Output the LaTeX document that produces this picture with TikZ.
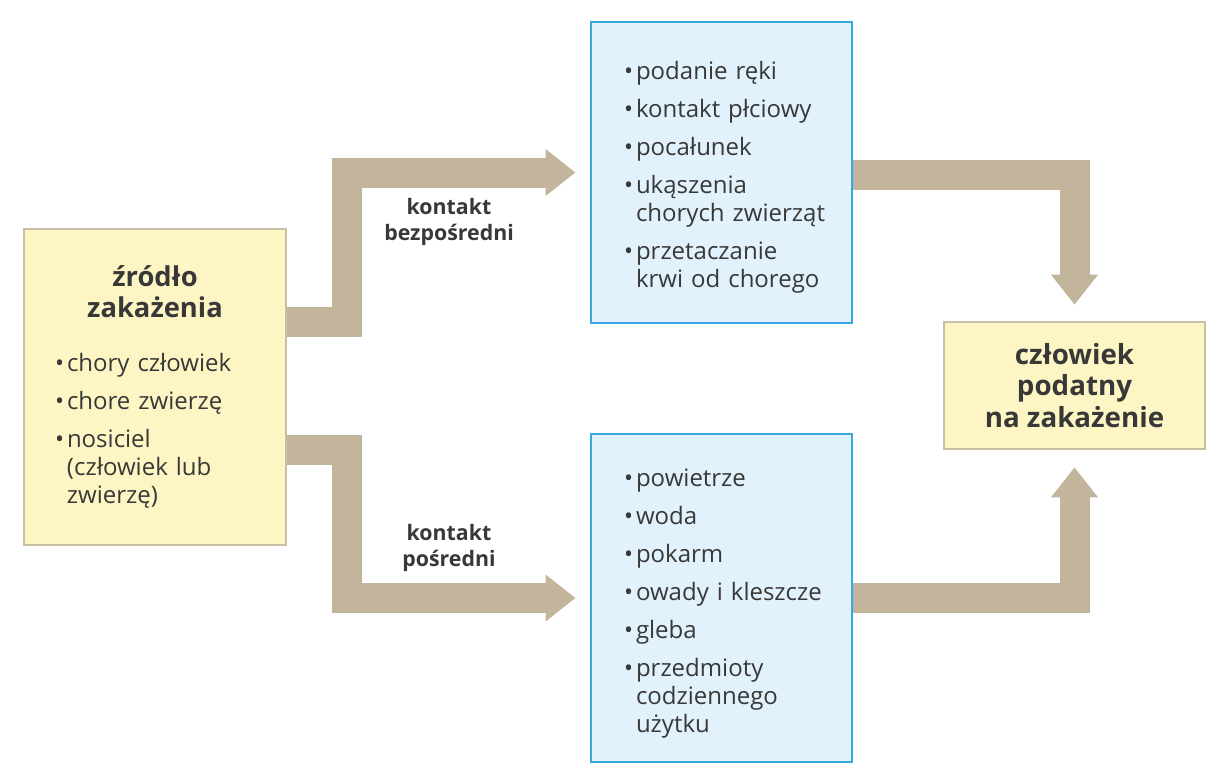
\documentclass[tikz,border=0pt]{standalone}
\usepackage{fontspec}
\setmainfont{Open Sans}
\usetikzlibrary{arrows.meta}
\definecolor{yfill}{HTML}{FDF6C4}
\definecolor{ydraw}{HTML}{C9BFA4}
\definecolor{bfill}{HTML}{E2F2FC}
\definecolor{bdraw}{HTML}{38A8E0}
\definecolor{arr}{HTML}{C2B59B}
\definecolor{txt}{HTML}{383838}
\hbadness=10000 \hfuzz=200pt
\newcommand\firstitm[1]{\par\hangindent=9pt\hangafter=1\noindent\makebox[9pt][l]{•}#1}
\newcommand\itm[1]{\par\vspace{7.5pt}\hangindent=9pt\hangafter=1\noindent\makebox[9pt][l]{•}#1}
\newcommand\lastitm[1]{\itm{#1}\par}
\tikzset{
  bodyfont/.style={font=\fontsize{18}{21}\selectfont},
  ybox/.style={draw=ydraw, fill=yfill, line width=2pt, text=txt, inner ysep=0pt},
  bbox/.style={draw=bdraw, fill=bfill, line width=2.2pt, text=txt, inner ysep=0pt,
    inner xsep=24.75pt, text width=146.25pt, minimum width=195.75pt, bodyfont},
  lbl/.style={align=center, text=txt, font=\bfseries\fontsize{16}{19}\selectfont},
  flow/.style={draw=arr, line width=22.5pt,
    -{Triangle[width=33.75pt, length=22.5pt]}},
}
\begin{document}
\begin{tikzpicture}[x=0.75pt, y=-0.75pt]
\useasboundingbox (0,0) rectangle (1216,769);
\fill[white] (0,0) rectangle (1216,769);

\node[ybox, inner xsep=23.25pt, text width=150pt, minimum width=196.5pt,
  minimum height=237pt, bodyfont] (src) at (155,387)
  {{\centering\bfseries\fontsize{20.5}{23.25}\selectfont źródło\\zakażenia\par}%
   \vspace{12pt}%
   \itm{chory~człowiek}%
   \itm{chore~zwierzę}%
   \lastitm{nosiciel\newline(człowiek~lub\newline zwierzę)}};

\node[bbox, minimum height=225.75pt] (top) at (721.5,172.5)
  {\firstitm{podanie~ręki}%
   \itm{kontakt~płciowy}%
   \itm{pocałunek}%
   \itm{ukąszenia\newline chorych~zwierząt}%
   \lastitm{przetaczanie\newline krwi~od~chorego}};

\node[bbox, minimum height=246pt] (bot) at (721.5,598)
  {\firstitm{powietrze}%
   \itm{woda}%
   \itm{pokarm}%
   \itm{owady~i~kleszcze}%
   \itm{gleba}%
   \lastitm{przedmioty\newline codziennego\newline użytku}};

\node[ybox, align=center, minimum width=195.75pt, minimum height=95.25pt,
  font=\bfseries\fontsize{20.8}{23.6}\selectfont] (dst) at (1074.5,385.5)
  {człowiek\\podatny\\na zakażenie};

\node[lbl] (l1) at (449,222) {kontakt\\bezpośredni};
\node[lbl] (l2) at (449,548) {kontakt\\pośredni};

\draw[flow] (src.east |- 0,322) -- (347,322) |- ([xshift=-10.5pt]top.west);
\draw[flow] (src.east |- 0,450) -- (347,450) |- ([xshift=-10.5pt]bot.west);
\draw[flow] (top.east |- 0,175) -| ([yshift=12pt]dst.north);
\draw[flow] (bot.east |- 0,598) -| ([yshift=-12.75pt]dst.south);
\end{tikzpicture}
\end{document}
